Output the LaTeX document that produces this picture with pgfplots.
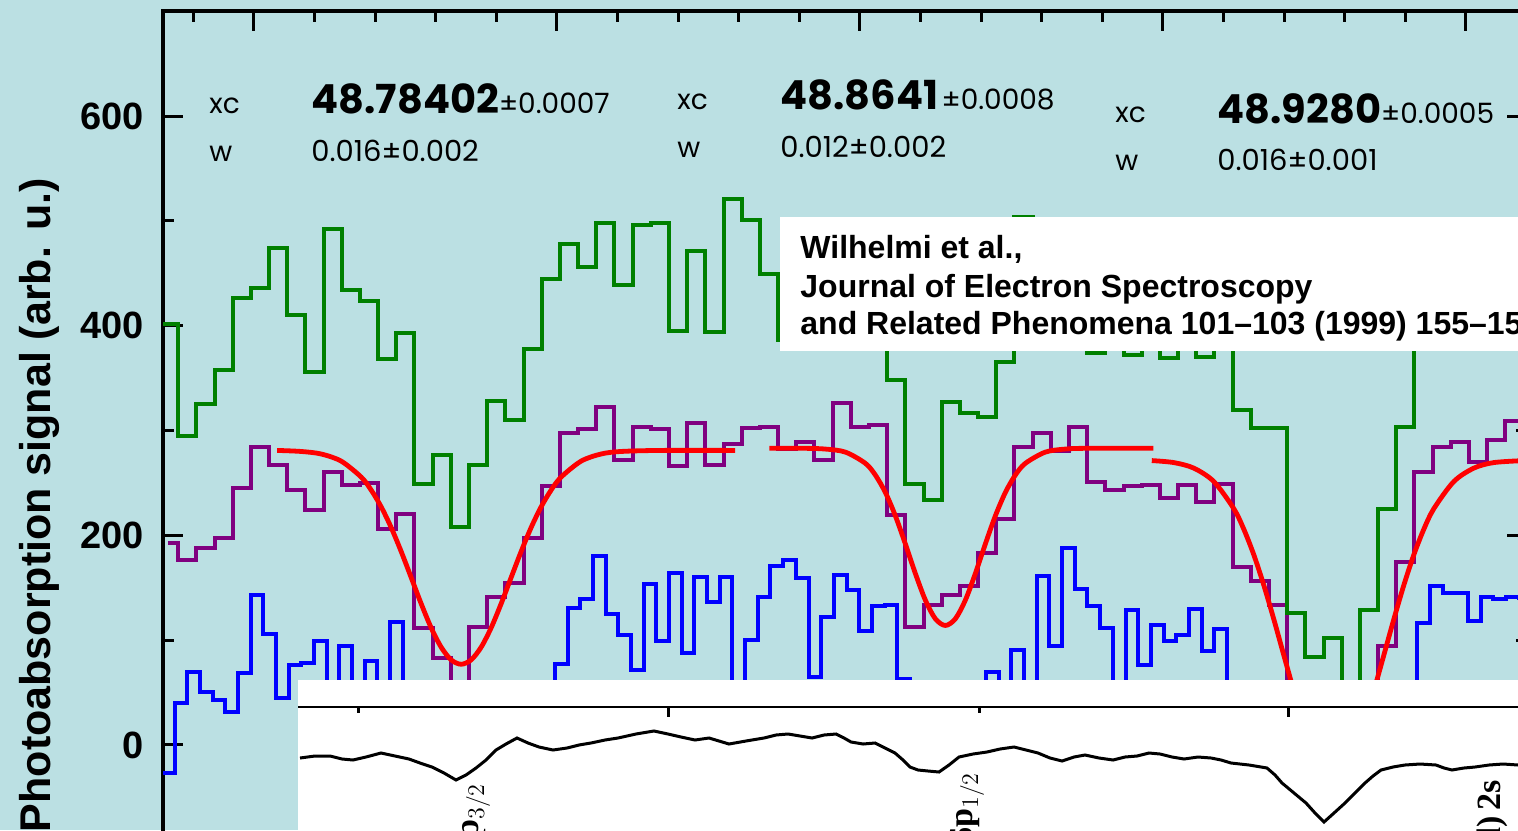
\documentclass[border=0pt]{standalone}
\usepackage{pgfplots}
\pgfplotsset{compat=1.18}
\usepackage{fontspec}
\setmainfont{Liberation Sans}
\newfontfamily\comic{Poppins}
\newfontfamily\serif{Liberation Serif}
\definecolor{bg}{RGB}{187,224,227}
\definecolor{pgreen}{RGB}{0,128,0}
\definecolor{ppurple}{RGB}{128,0,128}
\begin{document}
\begin{tikzpicture}
\begin{scope}
\clip (0,0) rectangle (759pt,-415pt);
\fill[bg] (0,0) rectangle (759pt,-415pt);
\begin{axis}[
  at={(81.5pt,-5.6pt)}, anchor=north west,
  width=681.75pt, height=419.3pt, scale only axis,
  xmin=48.735, xmax=48.96, ymin=-100, ymax=700,
  axis line style={line width=1.7pt},
  every tick/.style={line width=1.5pt, black},
  tick align=inside,
  xtick pos=right,
  major tick length=10pt, minor tick length=5.5pt,
  xtick={48.75,48.8,48.85,48.9,48.95},
  minor xtick={48.74,48.76,48.77,48.78,48.79,48.81,48.82,48.83,48.84,48.86,48.87,48.88,48.89,48.91,48.92,48.93,48.94,48.96},
  xticklabels={},
  scaled x ticks=false,
  ytick={0,200,400,600}, yticklabels={0,200,400,600},
  minor ytick={-100,100,300,500},
  yticklabel style={font=\fontsize{19}{19}\selectfont\bfseries, xshift=-6pt},
]
% purple
\addplot[ppurple, line width=2pt, const plot] coordinates {
(48.7358,193) (48.7375,176) (48.7405,188) (48.7435,197) (48.7465,245) (48.7495,284)
(48.7525,267) (48.7555,243) (48.7585,224) (48.7615,260) (48.7645,248) (48.7675,250)
(48.7705,206) (48.7735,220) (48.7765,112) (48.7795,83) (48.7825,40) (48.7855,113)
(48.7885,141) (48.7915,155) (48.7945,197) (48.7975,247) (48.8005,298) (48.8035,301)
(48.8065,322) (48.8095,272) (48.8125,303) (48.8155,301) (48.8185,266) (48.8215,307)
(48.8245,267) (48.8275,287) (48.8305,302) (48.8335,303) (48.8365,282) (48.8395,289)
(48.8425,272) (48.8455,326) (48.8485,303) (48.8515,305) (48.8545,219) (48.8575,113)
(48.8605,134) (48.8635,143) (48.8665,152) (48.8695,183) (48.8725,216) (48.8755,284)
(48.8785,298) (48.8815,280) (48.8845,303) (48.8875,251) (48.8905,243) (48.8935,247)
(48.8965,248) (48.8995,236) (48.9025,248) (48.9055,232) (48.9085,249) (48.9115,170)
(48.9145,156) (48.9175,134) (48.9205,40) (48.9235,20) (48.9265,15) (48.9295,25)
(48.9325,40) (48.9355,94) (48.9385,175) (48.9415,260) (48.9445,284) (48.9475,289)
(48.9505,270) (48.9535,291) (48.9565,309) (48.9625,309)
};
% green
\addplot[pgreen, line width=2pt, const plot] coordinates {
(48.7350,402) (48.7375,295) (48.7405,325) (48.7435,358) (48.7465,426) (48.7495,436)
(48.7525,474) (48.7555,410) (48.7585,356) (48.7615,492) (48.7645,434) (48.7675,424)
(48.7705,368) (48.7735,393) (48.7765,249) (48.7795,277) (48.7825,208) (48.7855,267)
(48.7885,328) (48.7915,310) (48.7945,378) (48.7975,445) (48.8005,478) (48.8035,456)
(48.8065,498) (48.8095,439) (48.8125,496) (48.8155,498) (48.8185,395) (48.8215,471)
(48.8245,394) (48.8275,521) (48.8305,501) (48.8335,449) (48.8365,386) (48.8395,430)
(48.8425,460) (48.8455,410) (48.8485,440) (48.8515,400) (48.8545,348) (48.8575,249)
(48.8605,234) (48.8635,327) (48.8665,317) (48.8695,313) (48.8725,365) (48.8755,504)
(48.8785,430) (48.8815,400) (48.8845,420) (48.8875,374) (48.8905,420) (48.8935,372)
(48.8965,400) (48.8995,369) (48.9025,395) (48.9055,370) (48.9085,390) (48.9115,320)
(48.9145,302) (48.9175,302) (48.9205,126) (48.9235,84) (48.9265,102) (48.9295,30)
(48.9325,129) (48.9355,225) (48.9385,303) (48.9415,420) (48.9445,455) (48.9475,440)
(48.9505,470) (48.9535,430) (48.9565,460) (48.9625,460)
};
% blue
\addplot[blue, line width=2pt, const plot] coordinates {
(48.73500,-27) (48.73690,40) (48.73899,70) (48.74108,51) (48.74318,43) (48.74527,31)
(48.74736,69) (48.74945,143) (48.75155,106) (48.75364,45) (48.75573,76) (48.75782,78)
(48.75992,99) (48.76201,30) (48.76410,94) (48.76619,30) (48.76829,80) (48.77038,30)
(48.77247,117) (48.77456,30) (48.77666,45) (48.77875,20) (48.78084,40) (48.78293,55)
(48.78503,35) (48.78712,25) (48.78921,50) (48.79130,40) (48.79339,30) (48.79549,45)
(48.79758,35) (48.79967,77) (48.80176,131) (48.80386,139) (48.80595,180) (48.80804,125)
(48.81013,105) (48.81223,72) (48.81432,154) (48.81641,99) (48.81850,164) (48.82060,88)
(48.82269,160) (48.82478,136) (48.82687,160) (48.82897,40) (48.83106,100) (48.83315,141)
(48.83524,171) (48.83734,176) (48.83943,159) (48.84152,65) (48.84361,122) (48.84570,162)
(48.84780,148) (48.84989,109) (48.85198,133) (48.85407,134) (48.85617,63) (48.85826,35)
(48.86035,45) (48.86244,25) (48.86454,40) (48.86663,50) (48.86872,30) (48.87081,70)
(48.87291,40) (48.87500,91) (48.87709,45) (48.87918,161) (48.88128,94) (48.88337,188)
(48.88546,149) (48.88755,133) (48.88965,112) (48.89174,40) (48.89383,129) (48.89592,76)
(48.89801,114) (48.90011,99) (48.90220,105) (48.90429,130) (48.90638,90) (48.90848,111)
(48.91057,40) (48.91266,30) (48.91475,50) (48.91685,35) (48.91894,20) (48.92103,10)
(48.92312,0) (48.92522,-10) (48.92731,0) (48.92940,15) (48.93149,20) (48.93359,35)
(48.93568,45) (48.93777,30) (48.93986,50) (48.94196,116) (48.94405,152) (48.94614,145)
(48.94823,145) (48.95033,118) (48.95242,141) (48.95451,139) (48.95660,141) (48.95870,140)
(48.96200,140)
};
% red fits
\addplot[red, line width=2.4pt, smooth] coordinates {
(48.75384,281) (48.75780,280.0) (48.76110,277.6) (48.76440,270.8) (48.76770,255.6)
(48.76935,243.2) (48.77100,227.2) (48.77265,207.5) (48.77430,184.6) (48.77595,159.8)
(48.77760,134.8) (48.77925,111.8) (48.78090,93.3) (48.78255,81.2) (48.78420,77)
(48.78585,81.2) (48.78750,93.3) (48.78915,111.8) (48.79080,134.8) (48.79245,159.8)
(48.79410,184.6) (48.79575,207.5) (48.79740,227.2) (48.79905,243.2) (48.80070,255.6)
(48.80400,270.8) (48.80730,277.6) (48.81060,280.0) (48.81720,281) (48.82941,281)
};
\addplot[red, line width=2.4pt, smooth] coordinates {
(48.83506,283) (48.84100,283) (48.84430,282.3) (48.84760,279.4) (48.85090,268.7)
(48.85255,257.5) (48.85420,240.9) (48.85585,218.6) (48.85750,191.8) (48.85915,163.6)
(48.86080,138.2) (48.86245,120.4) (48.86410,114) (48.86575,120.4) (48.86740,138.2)
(48.86905,163.6) (48.87070,191.8) (48.87235,218.6) (48.87400,240.9) (48.87565,257.5)
(48.87730,268.7) (48.88060,279.4) (48.88390,282.3) (48.88720,283) (48.89842,283)
};
\addplot[red, line width=2.4pt, smooth] coordinates {
(48.89817,271.3) (48.90180,269.4) (48.90510,264.1) (48.90840,251.3) (48.91170,225.4)
(48.91335,205.8) (48.91500,181.4) (48.91665,152.4) (48.91830,119.9) (48.91995,85.6)
(48.92160,51.8) (48.92325,21.4) (48.92490,-2.9) (48.92655,-18.6) (48.92820,-24)
(48.92985,-18.6) (48.93150,-2.9) (48.93315,21.4) (48.93480,51.8) (48.93645,85.6)
(48.93810,119.9) (48.93975,152.4) (48.94140,181.4) (48.94305,205.8) (48.94470,225.4)
(48.94800,251.3) (48.95130,264.1) (48.95460,269.4) (48.95955,271.3)
};
\end{axis}
\begin{scope}[x=0.5pt,y=-0.5pt]
% citation box
\fill[white] (780,217) rectangle (1540,351);
\node[anchor=base west, inner sep=0, font=\fontsize{16}{16}\selectfont\bfseries] at (800,258) {Wilhelmi et al.,};
\node[anchor=base west, inner sep=0, font=\fontsize{16}{16}\selectfont\bfseries] at (800,297) {Journal of Electron Spectroscopy};
\node[anchor=base west, inner sep=0, font=\fontsize{16}{16}\selectfont\bfseries] at (800,334) {and Related Phenomena 101--103 (1999) 155--159};
% inset background
\fill[white] (298,680) rectangle (1540,860);
% annotations
\node[anchor=base west, inner sep=0, font=\comic\fontsize{14}{14}\selectfont] at (209,113) {xc};
\node[anchor=base west, inner sep=0, font=\comic\fontsize{14}{14}\selectfont] at (209,161) {w};
\node[anchor=base west, inner sep=0, font=\comic] at (311,113) {{\fontsize{20}{20}\selectfont\bfseries 48.78402}{\fontsize{14}{15}\selectfont ±0.0007}};
\node[anchor=base west, inner sep=0, font=\comic\fontsize{14.5}{15}\selectfont] at (311,161) {0.016±0.002};
\node[anchor=base west, inner sep=0, font=\comic\fontsize{14}{14}\selectfont] at (677,109) {xc};
\node[anchor=base west, inner sep=0, font=\comic\fontsize{14}{14}\selectfont] at (677,157) {w};
\node[anchor=base west, inner sep=0, font=\comic] at (780,109) {{\fontsize{20}{20}\selectfont\bfseries 48.8641}\,{\fontsize{14}{15}\selectfont ±0.0008}};
\node[anchor=base west, inner sep=0, font=\comic\fontsize{14.5}{15}\selectfont] at (780,157) {0.012±0.002};
\node[anchor=base west, inner sep=0, font=\comic\fontsize{14}{14}\selectfont] at (1115,122) {xc};
\node[anchor=base west, inner sep=0, font=\comic\fontsize{14}{14}\selectfont] at (1115,170) {w};
\node[anchor=base west, inner sep=0, font=\comic] at (1217,123) {{\fontsize{20}{20}\selectfont\bfseries 48.9280}{\fontsize{14}{15}\selectfont ±0.0005}};
\node[anchor=base west, inner sep=0, font=\comic\fontsize{14.5}{15}\selectfont] at (1217,170) {0.016±0.001};
% y label
\node[rotate=90, anchor=base east, inner sep=0, font=\fontsize{21.5}{22}\selectfont\bfseries] at (50,178) {Photoabsorption signal (arb. u.)};
\end{scope}
% inset plot
\begin{axis}[
  at={(149pt,-353.5pt)}, anchor=north west,
  width=616pt, height=71.5pt, scale only axis,
  xmin=298, xmax=1530, ymin=-20, ymax=123,
  axis x line=top, axis y line=none,
  axis line style={line width=1pt, -},
  tick align=inside,
  xtick={668,1288}, minor xtick={358,979}, xticklabels={},
  major tick length=5pt, minor tick length=3pt,
  every tick/.style={line width=1.5pt, black},
  clip=false,
]
\addplot[black, line width=1.5pt] coordinates {
(300,72) (315,74) (330,74) (342,71) (353,70) (366,73) (381,77) (395,74) (409,71) (420,67)
(432,63) (444,57) (456,50) (466,55) (476,62) (486,70) (496,80) (506,86) (517,92) (528,87)
(539,83) (553,80) (567,82) (579,85) (591,87) (605,90) (618,92) (636,96) (654,99) (668,96)
(681,93) (695,90) (709,92) (719,89) (729,86) (746,89) (764,92) (776,95) (788,96) (800,94)
(812,92) (824,95) (836,96) (844,92) (851,88) (863,86) (875,87) (885,82) (895,77) (903,70)
(910,63) (918,60) (928,59) (939,58) (949,65) (959,73) (973,76) (987,78) (1000,81) (1014,83)
(1026,80) (1038,77) (1050,72) (1062,69) (1074,73) (1085,75) (1099,72) (1113,70) (1125,73)
(1137,74) (1149,77) (1160,76) (1172,73) (1184,71) (1198,73) (1211,72) (1221,70) (1231,67)
(1249,65) (1267,62) (1275,55) (1282,47) (1294,37) (1306,27) (1315,17) (1324,8) (1334,17)
(1345,27) (1355,37) (1365,47) (1373,54) (1381,60) (1393,63) (1405,65) (1420,66) (1436,65)
(1444,62) (1452,60) (1464,62) (1475,63) (1489,65) (1503,66) (1518,65) (1530,66)
};
\node[rotate=90, anchor=base east, inner sep=0, font=\serif\bfseries\fontsize{17}{17}\selectfont] at (axis cs:478,47) {(4d)\,6p$_{3/2}$};
\node[rotate=90, anchor=base east, inner sep=0, font=\serif\bfseries\fontsize{17}{17}\selectfont] at (axis cs:972,58) {(4d)\,6p$_{1/2}$};
\node[rotate=90, anchor=base east, inner sep=0, font=\serif\bfseries\fontsize{17}{17}\selectfont] at (axis cs:1500,50) {(4d)\,2s};
\end{axis}
\end{scope}
\pgfresetboundingbox
\useasboundingbox (0,0) rectangle (759pt,-415pt);
\end{tikzpicture}
\end{document}
